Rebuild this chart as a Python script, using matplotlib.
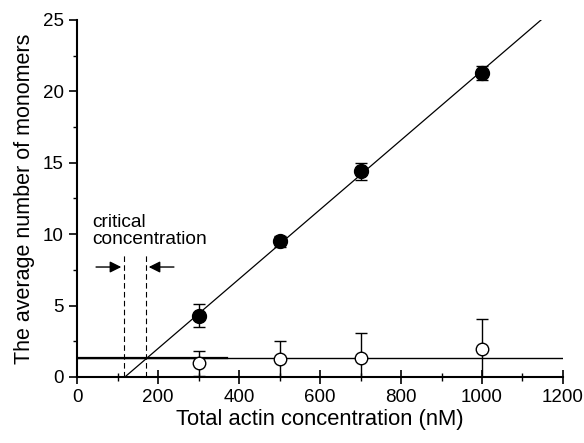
import matplotlib.pyplot as plt
import numpy as np

plt.rcParams['font.family'] = ['Liberation Sans', 'DejaVu Sans']

conc = np.array([300, 500, 700, 1000])
filled = np.array([4.3, 9.5, 14.4, 21.3])
filled_err = np.array([0.8, 0.4, 0.6, 0.5])
open_ = np.array([0.95, 1.25, 1.3, 1.95])
open_err = np.array([0.85, 1.3, 1.8, 2.1])

fit_x0 = 118.0      # x-intercept of the linear fit
fit_slope = 0.02432
plateau = 1.3
crit_lo, crit_hi = 116, 170

fig = plt.figure(figsize=(5.84, 4.43), dpi=100)
ax = fig.add_axes([0.132, 0.149, 0.832, 0.806])

# linear fit line
xf = np.array([fit_x0, fit_x0 + 25 / fit_slope])
ax.plot(xf, fit_slope * (xf - fit_x0), color='black', lw=0.9)
# horizontal plateau
ax.plot([0, 1200], [plateau, plateau], color='black', lw=1.0)
ax.plot([0, 370], [plateau, plateau], color='black', lw=1.6)

ax.errorbar(conc, filled, yerr=filled_err, fmt='o', color='black', ms=10,
            capsize=4, elinewidth=1, capthick=1)
ax.errorbar(conc, open_, yerr=open_err, fmt='o', color='black', mfc='white',
            ms=9, capsize=4, elinewidth=1, capthick=1)

# critical concentration markers
for xc in (crit_lo, crit_hi):
    ax.plot([xc, xc], [0, 8.7], color='black', lw=0.8, ls=(0, (5, 3)))
ax.annotate('', xy=(crit_lo, 7.7), xytext=(40, 7.7),
            arrowprops=dict(arrowstyle='-|>', color='black', lw=1, mutation_scale=17))
ax.annotate('', xy=(crit_hi, 7.7), xytext=(246, 7.7),
            arrowprops=dict(arrowstyle='-|>', color='black', lw=1, mutation_scale=17))
ax.text(38, 10.2, 'critical\nconcentration', fontsize=13.8, va='center', ha='left',
        linespacing=1.0)

ax.set_xlim(0, 1200)
ax.set_ylim(0, 25)
ax.set_xticks(np.arange(0, 1201, 200))
ax.set_xticks(np.arange(100, 1200, 200), minor=True)
ax.set_yticks(np.arange(0, 26, 5))
ax.set_yticks(np.arange(2.5, 25, 5), minor=True)
ax.tick_params(axis='x', which='major', direction='inout', length=10, width=1.2, labelsize=13.5)
ax.tick_params(axis='x', which='minor', direction='inout', length=6, width=1)
ax.tick_params(axis='y', which='major', direction='out', length=6, width=1.2, labelsize=13.5)
ax.tick_params(axis='y', which='minor', direction='out', length=3, width=1)
for s in ('top', 'right'):
    ax.spines[s].set_visible(False)
for s in ('left', 'bottom'):
    ax.spines[s].set_linewidth(1.5)
ax.spines['bottom'].set_zorder(5)

ax.set_xlabel('Total actin concentration (nM)', fontsize=15.8, labelpad=2)
ax.set_ylabel('The average number of monomers', fontsize=15.5, labelpad=6)

fig.savefig('out.png', dpi=100)
